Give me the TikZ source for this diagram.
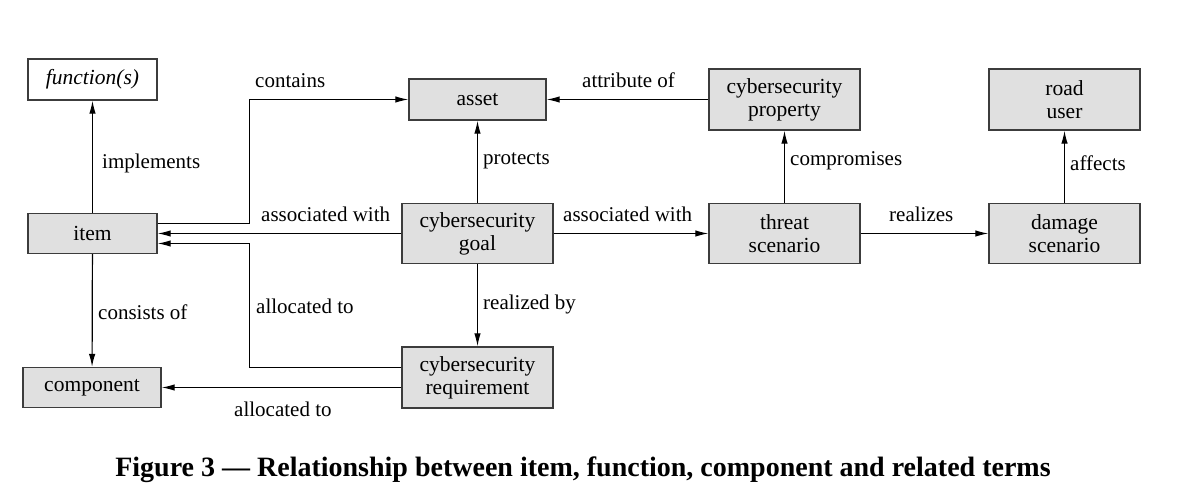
\documentclass[tikz,border=0pt]{standalone}
\usepackage{fontspec}
\setmainfont{Liberation Serif}
\usetikzlibrary{arrows.meta}
\definecolor{boxfill}{RGB}{224,224,224}
\definecolor{boxline}{RGB}{60,60,60}
\tikzset{
  termbox/.style={draw=boxline, line width=1.3pt, fill=boxfill, align=center,
    inner sep=0pt, font=\fontsize{21.5}{23}\selectfont},
  plainbox/.style={termbox, fill=white},
  rel/.style={line width=1.2pt, -{Latex[length=13pt,width=6.5pt]}},
  lbl/.style={anchor=west, inner sep=0pt, font=\fontsize{21}{23}\selectfont}
}
\begin{document}
\begin{tikzpicture}[x=1pt,y=1pt]
\useasboundingbox (0,0) rectangle (1184,502);
% boxes
\node[plainbox, minimum width=129pt, minimum height=41pt] (func) at (92.5,422.5) {\itshape function(s)};
\node[termbox, minimum width=129pt, minimum height=40pt] (item) at (92.5,268.5) {item};
\node[termbox, minimum width=138pt, minimum height=40pt] (comp) at (92,114.5) {component};
\node[termbox, minimum width=137pt, minimum height=41pt] (asset) at (477.5,402.5) {asset};
\node[termbox, minimum width=151pt, minimum height=60pt] (goal) at (477.5,268.5) {cybersecurity\\goal};
\node[termbox, minimum width=151pt, minimum height=61pt] (req) at (477.5,124.5) {cybersecurity\\requirement};
\node[termbox, minimum width=151pt, minimum height=61pt] (prop) at (784.5,402.5) {cybersecurity\\property};
\node[termbox, minimum width=151pt, minimum height=60pt] (threat) at (784.5,268.5) {threat\\scenario};
\node[termbox, minimum width=151pt, minimum height=61pt] (road) at (1064.5,402.5) {road\\user};
\node[termbox, minimum width=151pt, minimum height=60pt] (damage) at (1064.5,268.5) {damage\\scenario};
% junction coordinates
\coordinate (cTop) at (249.5,402.5);
\coordinate (cLow) at (249.5,134.5);
% connectors
\draw[rel] (item) -- (func);
\draw[rel] (item) -- (comp);
\draw[rel] ([yshift=10pt]item.east) -| (cTop) -- (asset.west);
\draw[rel] (goal) -- (item);
\draw[rel] (req.west |- cLow) -- (cLow) |- ([yshift=-10pt]item.east);
\draw[rel] (req.west |- comp.east) -- (comp.east);
\draw[rel] (goal) -- (asset);
\draw[rel] (goal) -- (req);
\draw[rel] (prop) -- (asset);
\draw[rel] (goal) -- (threat);
\draw[rel] (threat) -- (prop);
\draw[rel] (threat) -- (damage);
\draw[rel] (damage) -- (road);
% labels
\node[lbl] (l1) at (255,421) {contains};
\node[lbl] (l2) at (102,339) {implements};
\node[lbl] (l3) at (261,288) {associated with};
\node[lbl] (l4) at (582,422) {attribute of};
\node[lbl] (l5) at (483,341) {protects};
\node[lbl] (l6) at (563,288) {associated with};
\node[lbl] (l7) at (790,341) {compromises};
\node[lbl] (l8) at (889,288) {realizes};
\node[lbl] (l9) at (1070,339) {affects};
\node[lbl] (l10) at (98,190) {consists of};
\node[lbl] (l11) at (256,196) {allocated to};
\node[lbl] (l12) at (483,198) {realized by};
\node[lbl] (l13) at (234,93) {allocated to};
% caption
\node[inner sep=0pt, font=\fontsize{28}{32}\selectfont\bfseries] (cap) at (583,32)
  {Figure 3 — Relationship between item, function, component and related terms};
\end{tikzpicture}
\end{document}
